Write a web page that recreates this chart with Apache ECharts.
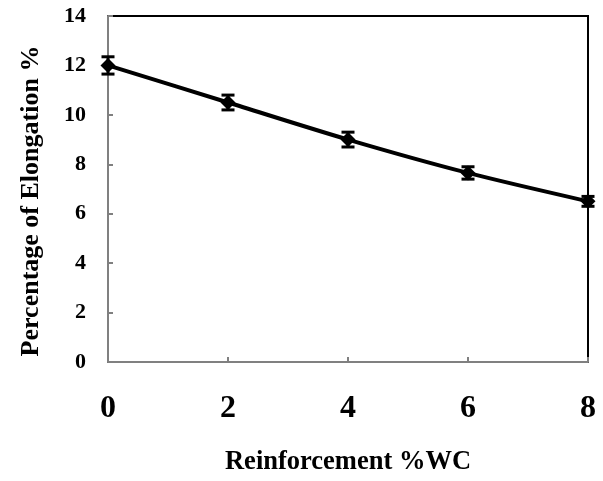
<!DOCTYPE html>
<html>
<head>
<meta charset="utf-8">
<script src="https://cdn.jsdelivr.net/npm/echarts@6/dist/echarts.min.js"></script>
<style>html,body{margin:0;padding:0;background:#fff;}#c{width:603px;height:481px;}</style>
</head>
<body>
<div id="c"></div>
<script>
var reinforcement = [0, 2, 4, 6, 8];
var elongation = [12.0, 10.5, 9.0, 7.65, 6.5];
var errors = [0.35, 0.3, 0.3, 0.25, 0.2];

var lineData = reinforcement.map(function (x, i) { return [x, elongation[i]]; });
var errData = reinforcement.map(function (x, i) { return [x, elongation[i] - errors[i], elongation[i] + errors[i]]; });

var font = 'Liberation Serif';
var chart = echarts.init(document.getElementById('c'));
chart.setOption({
  animation: false,
  backgroundColor: '#fff',
  grid: { left: 108, right: 15, top: 16, bottom: 116, show: true, borderColor: '#000', borderWidth: 2 },
  xAxis: {
    type: 'value', min: 0, max: 8, interval: 2,
    name: 'Reinforcement %WC', nameLocation: 'middle', nameGap: 87,
    nameTextStyle: { fontFamily: font, fontWeight: 'bold', fontSize: 26.5, color: '#000' },
    axisLine: { show: true, lineStyle: { color: '#808080', width: 2 } },
    axisTick: { show: true, inside: true, length: 5, lineStyle: { color: '#808080', width: 2 } },
    axisLabel: { margin: 31, fontFamily: font, fontWeight: 'bold', fontSize: 32, color: '#000' },
    splitLine: { show: false }
  },
  yAxis: {
    type: 'value', min: 0, max: 14, interval: 2,
    name: 'Percentage of Elongation %', nameLocation: 'middle', nameGap: 64,
    nameTextStyle: { fontFamily: font, fontWeight: 'bold', fontSize: 26, color: '#000', padding: [0, 24, 0, 0] },
    axisLine: { show: true, lineStyle: { color: '#808080', width: 2 } },
    axisTick: { show: true, inside: true, length: 5, lineStyle: { color: '#808080', width: 2 } },
    axisLabel: { margin: 22, fontFamily: font, fontWeight: 'bold', fontSize: 22, color: '#000' },
    splitLine: { show: false }
  },
  series: [
    {
      type: 'line', data: lineData, smooth: 0.3,
      lineStyle: { color: '#000', width: 4 },
      symbol: 'diamond', symbolSize: 15,
      itemStyle: { color: '#000' }, z: 3
    },
    {
      type: 'custom', data: errData, z: 4,
      encode: { x: 0, y: [1, 2] },
      renderItem: function (params, api) {
        var x = api.value(0);
        var lo = api.coord([x, api.value(1)]);
        var hi = api.coord([x, api.value(2)]);
        var w = 6.5;
        var st = { stroke: '#000', lineWidth: 3 };
        return {
          type: 'group',
          children: [
            { type: 'line', shape: { x1: lo[0], y1: lo[1], x2: hi[0], y2: hi[1] }, style: st },
            { type: 'line', shape: { x1: lo[0] - w, y1: lo[1], x2: lo[0] + w, y2: lo[1] }, style: st },
            { type: 'line', shape: { x1: hi[0] - w, y1: hi[1], x2: hi[0] + w, y2: hi[1] }, style: st }
          ]
        };
      }
    }
  ]
});
</script>
</body>
</html>
